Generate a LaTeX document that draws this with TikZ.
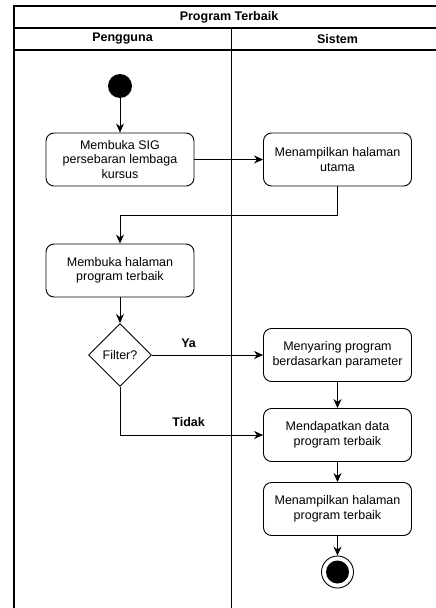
\documentclass[tikz,border=0pt]{standalone}
\usepackage{fontspec}
\setmainfont{Liberation Sans}
\usetikzlibrary{arrows.meta,shapes.geometric}

\begin{document}
\begin{tikzpicture}[x=1pt,y=-1pt,
  font=\fontsize{12.5}{14.5}\selectfont,
  act/.style={draw,rounded corners=8pt,line width=0.9pt,minimum width=148pt,minimum height=53pt,align=center,inner sep=2pt},
  flow/.style={line width=0.9pt,-{Stealth[length=9pt,width=8pt]}},
  lbl/.style={font=\fontsize{12.5}{14.5}\selectfont\bfseries}]
\useasboundingbox (0,0) rectangle (436,608);
\clip (0,0) rectangle (436,608);
% swimlanes
\draw [line width=1.3pt] (14,630) -- (14,6) -- (450,6);
\draw [line width=1.1pt] (14,28) -- (450,28);
\draw [line width=1.1pt] (14,50) -- (450,50);
\draw [line width=1pt] (231,28) -- (231,630);
\node (title) at (229,17) {\bfseries Program Terbaik};
\node (laneA) at (122.5,39) {\bfseries Pengguna};
\node (laneB) at (337.5,39) {\bfseries Sistem};
% activities
\node [circle,fill=black,minimum size=24pt,inner sep=0pt] (start) at (120,86) {};
\node [act] (sig) at (120,159.5) {Membuka SIG\\persebaran lembaga\\kursus};
\node [act] (utama) at (337.5,159.5) {Menampilkan halaman\\utama};
\node [act] (buka) at (120,270.5) {Membuka halaman\\program terbaik};
\node [diamond,draw,line width=0.9pt,minimum size=63pt,inner sep=0pt] (filter) at (120,355) {Filter?};
\node [act] (saring) at (337.5,355) {Menyaring program\\berdasarkan parameter};
\node [act] (data) at (337.5,435) {Mendapatkan data\\program terbaik};
\node [act] (hasil) at (337.5,509) {Menampilkan halaman\\program terbaik};
\node [circle,draw,line width=0.9pt,minimum size=32pt,inner sep=0pt] (end) at (337.5,572) {};
\fill (end) circle (11.5);
% flows
\draw [flow] (start) -- (sig);
\draw [flow] (sig) -- (utama);
\draw [flow] (utama.south) -- ++(0,29) -| (buka.north);
\draw [flow] (buka) -- (filter);
\draw [flow] (filter) -- node [lbl,above=4pt,pos=0.33] {Ya} (saring);
\draw [flow] (filter.south) |- node [lbl,above=5pt,pos=0.74] {Tidak} (data.west);
\draw [flow] (saring) -- (data);
\draw [flow] (data) -- (hasil);
\draw [flow] (hasil) -- (end);
\end{tikzpicture}
\end{document}
